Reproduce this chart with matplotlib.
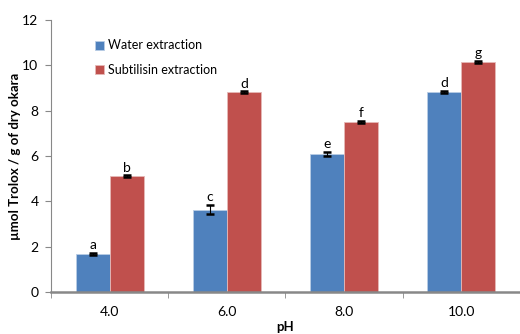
import matplotlib
matplotlib.use('Agg')
import matplotlib.pyplot as plt
import numpy as np

ph_labels = ["4.0", "6.0", "8.0", "10.0"]
water = [1.67, 3.63, 6.08, 8.82]
water_err = [0.04, 0.2, 0.1, 0.04]
water_letters = ["a", "c", "e", "d"]
subtilisin = [5.1, 8.82, 7.5, 10.15]
subtilisin_err = [0.04, 0.03, 0.06, 0.03]
subtilisin_letters = ["b", "d", "f", "g"]

plt.rcParams['font.family'] = ['Lato', 'DejaVu Sans']

fig = plt.figure(figsize=(5.2, 3.34), dpi=100)
ax = fig.add_axes([0.098, 0.126, 0.902, 0.814])

x = np.arange(len(ph_labels))
w = 0.29
blue = '#4F81BD'
red = '#C0504D'
ax.bar(x - w / 2, water, w, color=blue, edgecolor='#B9CDE5', linewidth=0.6,
       label='Water extraction', zorder=2)
ax.bar(x + w / 2, subtilisin, w, color=red, edgecolor='#E6B9B8', linewidth=0.6,
       label='Subtilisin extraction', zorder=2)
ax.errorbar(x - w / 2, water, yerr=water_err, fmt='none', ecolor='black',
            elinewidth=0.8, capsize=3, capthick=1.8, zorder=3)
ax.errorbar(x + w / 2, subtilisin, yerr=subtilisin_err, fmt='none', ecolor='black',
            elinewidth=0.8, capsize=3, capthick=1.8, zorder=3)

for i in range(len(x)):
    ax.text(x[i] - w / 2, water[i] + water_err[i] + 0.08, water_letters[i],
            ha='center', va='bottom', fontsize=10)
    ax.text(x[i] + w / 2, subtilisin[i] + subtilisin_err[i] + 0.08, subtilisin_letters[i],
            ha='center', va='bottom', fontsize=10)

ax.set_xlim(-0.5, len(x) - 0.5)
ax.set_ylim(0, 12)
ax.set_yticks(range(0, 13, 2))
ax.set_xticks(x)
ax.set_xticklabels(ph_labels, fontsize=10)
ax.set_xticks(np.arange(-0.5, len(x), 1.0), minor=True)
ax.tick_params(axis='x', which='major', length=0, pad=10)
ax.tick_params(axis='x', which='minor', length=4, color='#888888', direction='out')
ax.tick_params(axis='y', labelsize=10, length=4, color='#888888', direction='out', pad=5)

for s in ['top', 'right']:
    ax.spines[s].set_visible(False)
ax.spines['left'].set_color('#888888')
ax.spines['bottom'].set_color('#888888')
ax.spines['bottom'].set_linewidth(1.8)

ax.set_ylabel('µmol Trolox / g of dry okara', fontsize=9.5, fontweight='bold', labelpad=1)
ax.set_xlabel('pH', fontsize=9.5, fontweight='bold', labelpad=2)

ax.legend(loc='upper left', bbox_to_anchor=(0.07, 0.97), frameon=False, fontsize=9,
          handlelength=0.75, handleheight=0.75, handletextpad=0.3, labelspacing=1.0)

fig.savefig('out.png', dpi=100)
